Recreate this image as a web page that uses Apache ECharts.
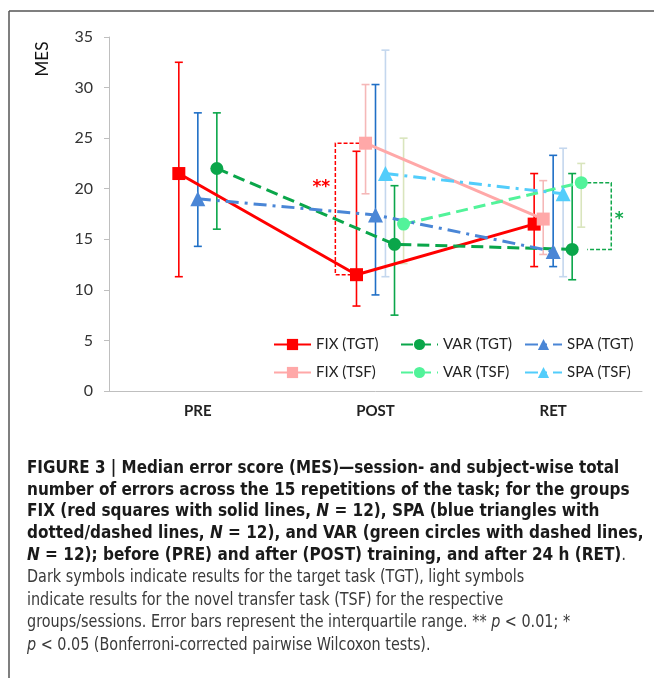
<!DOCTYPE html>
<html>
<head>
<meta charset="utf-8">
<script src="https://cdn.jsdelivr.net/npm/echarts@6/dist/echarts.min.js"></script>
<style>
  html, body { margin: 0; padding: 0; background: #fff; }
  #main { width: 654px; height: 678px; }
</style>
</head>
<body>
<div id="main"></div>
<script>
// sessions
var categories = ['PRE', 'POST', 'RET'];
var yTicks = [0, 5, 10, 15, 20, 25, 30, 35];

// medians and interquartile range (q1 / q3), null = not measured
var fixTgt = [21.5, 11.5, 16.5];
var fixTgtQ1 = [11.3, 8.4, 12.3];
var fixTgtQ3 = [32.5, 23.7, 21.5];

var fixTsf = [null, 24.5, 17];
var fixTsfQ1 = [null, 19.5, 13.5];
var fixTsfQ3 = [null, 30.3, 20.8];

var spaTgt = [19, 17.4, 13.8];
var spaTgtQ1 = [14.3, 9.5, 12.3];
var spaTgtQ3 = [27.5, 30.3, 23.3];

var spaTsf = [null, 21.5, 19.5];
var spaTsfQ1 = [null, 11.3, 11.3];
var spaTsfQ3 = [null, 33.7, 24];

var varTgt = [22, 14.5, 14];
var varTgtQ1 = [16, 7.5, 11];
var varTgtQ3 = [27.5, 20.3, 21.5];

var varTsf = [null, 16.5, 20.6];
var varTsfQ1 = [null, 12.6, 16.2];
var varTsfQ3 = [null, 25, 22.5];

var groups = [
  { name: 'FIX (TGT)', med: fixTgt, q1: fixTgtQ1, q3: fixTgtQ3, off: -0.107, color: '#ff0000', bar: '#ff0000', symbol: 'rect', size: 13, dash: 'solid' },
  { name: 'FIX (TSF)', med: fixTsf, q1: fixTsfQ1, q3: fixTsfQ3, off: -0.056, color: '#ffa8a8', bar: '#f5b8b8', symbol: 'rect', size: 13, dash: 'solid' },
  { name: 'VAR (TGT)', med: varTgt, q1: varTgtQ1, q3: varTgtQ3, off: 0.107, color: '#0aa64a', bar: '#0aa64a', symbol: 'circle', size: 13, dash: [12, 6] },
  { name: 'VAR (TSF)', med: varTsf, q1: varTsfQ1, q3: varTsfQ3, off: 0.158, color: '#52f39a', bar: '#d9e5bd', symbol: 'circle', size: 13, dash: [12, 6] },
  { name: 'SPA (TGT)', med: spaTgt, q1: spaTgtQ1, q3: spaTgtQ3, off: 0, color: '#4a86d6', bar: '#1f6fc6', symbol: 'triangle', size: 15, dash: [13, 6, 3, 6] },
  { name: 'SPA (TSF)', med: spaTsf, q1: spaTsfQ1, q3: spaTsfQ3, off: 0.056, color: '#52cdfb', bar: '#c4d7ee', symbol: 'triangle', size: 15, dash: [13, 6, 3, 6] }
];

// significance brackets: session, upper group, lower group
var brackets = [
  { cat: 1, top: groups[1], bottom: groups[0], x: -0.226, text: '**', color: '#ff0000', side: 'left', frac: 0.34 },
  { cat: 2, top: groups[3], bottom: groups[2], x: 0.327, text: '*', color: '#12a84c', side: 'right', frac: 0.55 }
];

var chart = echarts.init(document.getElementById('main'));
var axisFont = 'Lato, "Open Sans", sans-serif';

function points(g) {
  var out = [];
  g.med.forEach(function (v, i) { if (v != null) out.push([i + g.off, v]); });
  return out;
}
function bars(g) {
  var out = [];
  g.med.forEach(function (v, i) { if (v != null) out.push([i + g.off, g.q1[i], g.q3[i]]); });
  return out;
}

var series = [];
groups.forEach(function (g) {
  series.push({
    type: 'custom',
    xAxisIndex: 1,
    silent: true,
    z: 1,
    data: bars(g),
    encode: { x: 0, y: [1, 2] },
    renderItem: function (params, api) {
      var lo = api.coord([api.value(0), api.value(1)]);
      var hi = api.coord([api.value(0), api.value(2)]);
      var st = { stroke: g.bar, lineWidth: 1.6 };
      return {
        type: 'group',
        children: [
          { type: 'line', shape: { x1: lo[0], y1: lo[1], x2: hi[0], y2: hi[1] }, style: st },
          { type: 'line', shape: { x1: lo[0] - 4, y1: lo[1], x2: lo[0] + 4, y2: lo[1] }, style: st },
          { type: 'line', shape: { x1: hi[0] - 4, y1: hi[1], x2: hi[0] + 4, y2: hi[1] }, style: st }
        ]
      };
    }
  });
});
groups.forEach(function (g) {
  series.push({
    name: g.name,
    type: 'line',
    xAxisIndex: 1,
    z: 3,
    data: points(g),
    symbol: g.symbol,
    symbolSize: g.size,
    showSymbol: true,
    itemStyle: { color: g.color },
    lineStyle: { color: g.color, width: 3, type: g.dash }
  });
});

series.push({
  type: 'custom',
  xAxisIndex: 1,
  silent: true,
  z: 2,
  data: brackets.map(function (b, i) { return [b.cat + b.x, b.top.med[b.cat], b.bottom.med[b.cat], i]; }),
  encode: { x: 0, y: [1, 2] },
  renderItem: function (params, api) {
    var b = brackets[api.value(3)];
    var pt = api.coord([api.value(0), api.value(1)]);
    var pb = api.coord([api.value(0), api.value(2)]);
    var mt = api.coord([b.cat + b.top.off, b.top.med[b.cat]]);
    var mb = api.coord([b.cat + b.bottom.off, b.bottom.med[b.cat]]);
    var dir = b.side === 'left' ? -1 : 1;
    var et = mt[0] - dir * 6, eb = mb[0] - dir * 6;
    if (b.side === 'right') { et = eb = Math.max(mt[0], mb[0]) + 6; }
    var st = { stroke: b.color, lineWidth: 1.5, lineDash: [4, 2], fill: null };
    var ty = pt[1] + (pb[1] - pt[1]) * b.frac;
    return {
      type: 'group',
      children: [
        { type: 'polyline', shape: { points: [[et, pt[1]], [pt[0], pt[1]], [pb[0], pb[1]], [eb, pb[1]]] }, style: st },
        { type: 'text', x: pt[0] + dir * (b.side === 'left' ? 14 : 8), y: ty,
          style: { text: b.text, fill: b.color, font: 'bold 17px "DejaVu Sans", sans-serif', align: 'center', verticalAlign: 'middle' } }
      ]
    };
  }
});

function legendCol(left, names) {
  return {
    orient: 'vertical',
    left: left,
    top: 332,
    itemWidth: 37,
    itemHeight: 14,
    itemGap: 13,
    selectedMode: false,
    data: names,
    textStyle: { fontFamily: axisFont, fontSize: 15, color: '#222' }
  };
}

var capFam = '"Liberation Sans Narrow", "DejaVu Sans Condensed", sans-serif';
var rich = {
  b: { font: 'bold 17px ' + capFam, fill: '#1a1a1a' },
  bi: { font: 'italic bold 17px ' + capFam, fill: '#1a1a1a' },
  n: { font: '17px ' + capFam, fill: '#3a3a3a' },
  i: { font: 'italic 17px ' + capFam, fill: '#3a3a3a' }
};
// [baseline-ish y, horizontal scale, text]
var captionLines = [
  [470, 0.99, '{b|FIGURE 3 | Median error score (MES)—session- and subject-wise total}'],
  [492, 1, '{b|number of errors across the 15 repetitions of the task; for the groups}'],
  [513, 1, '{b|FIX (red squares with solid lines, }{bi|N}{b| = 12), SPA (blue triangles with}'],
  [535, 1, '{b|dotted/dashed lines, }{bi|N}{b| = 12), and VAR (green circles with dashed lines,}'],
  [557, 1, '{bi|N}{b| = 12); before (PRE) and after (POST) training, and after 24 h (RET)}{n|.}'],
  [579, 0.94, '{n|Dark symbols indicate results for the target task (TGT), light symbols}'],
  [602, 0.94, '{n|indicate results for the novel transfer task (TSF) for the respective}'],
  [624, 0.94, '{n|groups/sessions. Error bars represent the interquartile range. ** }{i|p}{n| < 0.01; *}'],
  [647, 0.94, '{i|p}{n| < 0.05 (Bonferroni-corrected pairwise Wilcoxon tests).}']
];

var graphics = [
  { type: 'line', shape: { x1: 9, y1: 11, x2: 654, y2: 11 }, style: { stroke: '#555', lineWidth: 1.5 } },
  { type: 'line', shape: { x1: 9, y1: 11, x2: 9, y2: 678 }, style: { stroke: '#555', lineWidth: 1.5 } },
  { type: 'text', x: 43, y: 59, rotation: Math.PI / 2,
    style: { text: 'MES', font: '17px ' + axisFont, fill: '#111', align: 'center', verticalAlign: 'middle' } }
];
captionLines.forEach(function (l) {
  graphics.push({ type: 'text', x: 27, y: l[0] - 10, scaleX: l[1], style: { text: l[2], rich: rich } });
});

chart.setOption({
  animation: false,
  backgroundColor: '#fff',
  grid: { left: 109, right: 12, top: 37, bottom: 287 },
  legend: [
    legendCol(268, ['FIX (TGT)', 'FIX (TSF)']),
    legendCol(395, ['VAR (TGT)', 'VAR (TSF)']),
    legendCol(519, ['SPA (TGT)', 'SPA (TSF)'])
  ],
  xAxis: [{
    type: 'category',
    data: categories,
    boundaryGap: true,
    axisLine: { lineStyle: { color: '#bfbfbf', width: 1 } },
    axisTick: { alignWithLabel: true, length: 5, lineStyle: { color: '#bfbfbf' } },
    axisLabel: { margin: 13, fontFamily: axisFont, fontSize: 15, fontWeight: 'bold', color: '#222' },
    splitLine: { show: false }
  }, {
    type: 'value',
    min: -0.5,
    max: 2.5,
    show: false,
    splitLine: { show: false }
  }],
  yAxis: {
    type: 'value',
    min: yTicks[0],
    max: yTicks[yTicks.length - 1],
    interval: 5,
    axisLine: { show: true, onZero: false, lineStyle: { color: '#bfbfbf' } },
    axisTick: { show: true, length: 5, lineStyle: { color: '#bfbfbf' } },
    axisLabel: { margin: 16, fontFamily: axisFont, fontSize: 16, color: '#333' },
    splitLine: { show: false }
  },
  graphic: graphics,
  series: series
});
</script>
</body>
</html>
